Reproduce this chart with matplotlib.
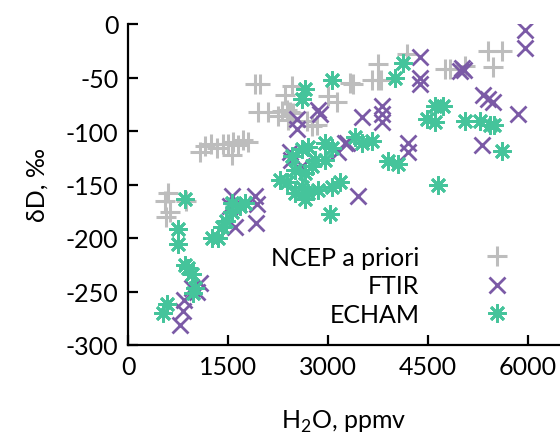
import matplotlib
matplotlib.use("Agg")
import matplotlib.pyplot as plt

plt.rcParams["font.family"] = ["Lato", "DejaVu Sans"]
plt.rcParams["mathtext.fontset"] = "custom"
plt.rcParams["mathtext.rm"] = "Lato"
plt.rcParams["axes.unicode_minus"] = False

# NCEP a priori
ncep_x = [560, 600, 570, 630, 870,
          1080, 1150, 1250, 1330, 1420, 1500, 1570, 1650, 1730, 1800, 1560,
          1900, 1980, 1950,
          2100, 2250, 2310, 2385, 2430, 2355, 2460, 2480, 2400, 2680, 2760, 2835,
          3000, 3135, 3330, 3375, 3660,
          3750, 3800, 3750, 4185, 4755, 4830, 5055, 5400, 5610, 5475]
ncep_y = [-165, -158, -180, -176, -165,
          -120, -114, -112, -116, -112, -112, -110, -113, -108, -110, -122,
          -56, -56, -82,
          -82, -86, -81, -80, -82, -66, -58, -83, -90, -91, -95, -94,
          -67, -73, -55, -56, -52,
          -52, -52, -37, -28, -42, -42, -39, -25, -25, -40]

# FTIR
ftir_x = [780, 830, 840, 960, 1035, 1080,
          1560, 1530, 1600, 1900, 1935, 1920,
          2430, 2450, 2610, 2535, 2535, 2850, 2880,
          3150, 3255, 3285, 3450, 3510,
          3810, 3810, 3810, 4200, 4200,
          4380, 4380, 4380, 5010, 5040, 4980, 5325, 5400, 5475, 5310, 5850, 5955, 5955]
ftir_y = [-281, -268, -258, -247, -250, -242,
          -161, -170, -190, -161, -168, -186,
          -120, -127, -133, -89, -98, -80, -84,
          -120, -111, -111, -161, -87,
          -77, -84, -92, -111, -120,
          -31, -50, -56, -41, -43, -44, -66, -70, -73, -113, -84, -6, -22]

# ECHAM
echam_x = [525, 585, 750, 750, 855, 860, 900, 960, 975, 1005,
           1260, 1350, 1410, 1470, 1560, 1680, 1560, 1755,
           2280, 2385, 2460, 2505, 2505, 2610, 2610, 2610, 2655, 2655, 2655, 2700,
           2700, 2760, 2805, 2850, 2955, 2955, 3030, 3060, 3060, 3060, 3180,
           3405, 3510, 3660, 3900, 4050, 4005, 4125,
           4605, 4725, 4485, 4605, 4650, 5055, 5280, 5430, 5490, 5610]
echam_y = [-270, -262, -192, -206, -164, -225, -228, -234, -251, -247,
           -200, -200, -190, -184, -176, -170, -167, -167,
           -146, -148, -123, -136, -158, -117, -152, -70, -61, -139, -164, -115,
           -158, -133, -127, -155, -111, -127, -178, -52, -116, -152, -148,
           -106, -111, -109, -128, -131, -50, -36,
           -77, -77, -89, -92, -150, -91, -91, -94, -94, -119]

fig = plt.figure(figsize=(5.6, 4.39), dpi=100)
ax = fig.add_axes([128 / 560, 1 - 346 / 439, 1 - 128 / 560, (346 - 25) / 439])

ax.plot(ncep_x, ncep_y, ls="none", marker="+", ms=15, mew=2.2,
        color="#bdbdbd", label="NCEP a priori")
ax.plot(ftir_x, ftir_y, ls="none", marker="x", ms=11.5, mew=2.0,
        color="#7b5aa6", label="FTIR")
ax.plot(echam_x, echam_y, ls="none", marker=(8, 2, 0), ms=13, mew=2.0,
        color="#45c49b", label="ECHAM")

ax.set_xlim(0, 6480)
ax.set_ylim(-300, 0)
ax.set_xticks([0, 1500, 3000, 4500, 6000])
ax.set_yticks(range(-300, 1, 50))

for side in ["top", "right"]:
    ax.spines[side].set_visible(False)
for side in ["left", "bottom"]:
    ax.spines[side].set_linewidth(1.6)
ax.tick_params(direction="in", length=7, width=1.6, labelsize=18, pad=7)

ax.set_xlabel("H$_\\mathrm{2}$O, ppmv", fontsize=18, labelpad=22)
ax.set_ylabel("δD, ‰", fontsize=18, labelpad=12)

ax.legend(loc="center right", bbox_to_anchor=(512 / 560, 1 - 287 / 439),
          bbox_transform=fig.transFigure, frameon=False, markerfirst=False,
          fontsize=18, handlelength=1.2, handletextpad=2.5, labelspacing=0.22,
          borderpad=0, borderaxespad=0)

fig.savefig("out.png", dpi=100)
